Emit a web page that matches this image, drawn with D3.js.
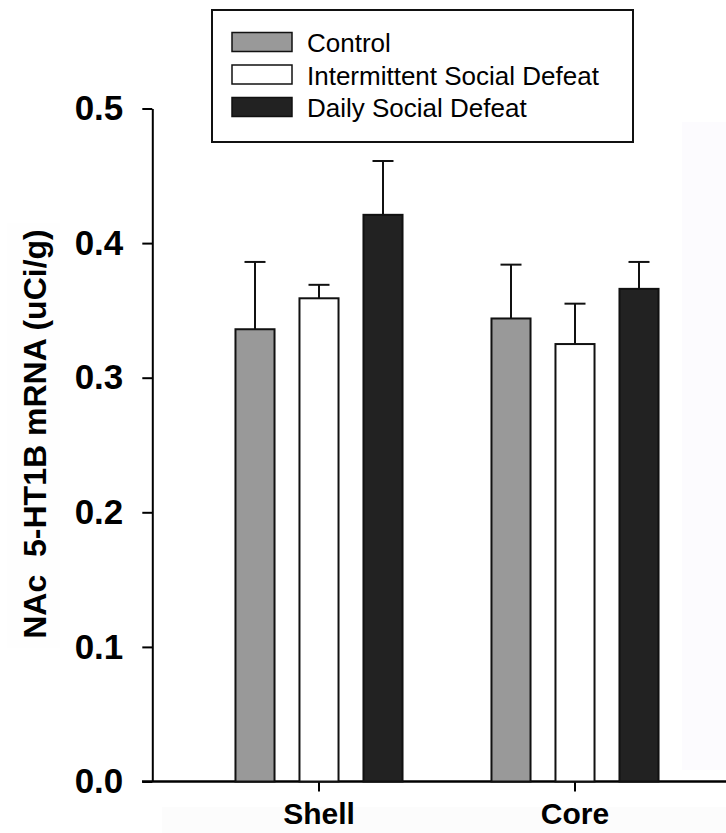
<!DOCTYPE html>
<html>
<head>
    <title>NAc 5-HT1B mRNA</title>
    <meta charset="utf-8">
    <script src="https://cdn.jsdelivr.net/npm/d3@7"></script>
    <style>
        body { margin: 0; background: #fff; }
        text { font-family: Arial, "Liberation Sans", sans-serif; }
        .axis path, .axis line { stroke: #000; stroke-width: 2px; }
        .yaxis text { font-size: 35px; font-weight: bold; fill: #000; }
        .xaxis text { font-size: 30px; font-weight: bold; fill: #000; }
    </style>
</head>
<body>
<div id="chart"></div>
<script>
    const regions = ["Shell", "Core"];
    const groups = ["Control", "Intermittent Social Defeat", "Daily Social Defeat"];
    const colors = ["#999999", "#ffffff", "#222222"];
    const means = {
        "Shell": [0.336, 0.359, 0.421],
        "Core": [0.344, 0.325, 0.366]
    };
    const sems = {
        "Shell": [0.050, 0.010, 0.040],
        "Core": [0.040, 0.030, 0.020]
    };
    const yTicks = [0, 0.1, 0.2, 0.3, 0.4, 0.5];

    const W = 726, H = 833;
    const svg = d3.select("#chart").append("svg")
        .attr("width", W).attr("height", H);

    // faint scan shading
    svg.append("rect").attr("x", 682).attr("y", 122).attr("width", 44).attr("height", 648).attr("fill", "#fcfbfe");
    svg.append("rect").attr("x", 162).attr("y", 807).attr("width", 564).attr("height", 26).attr("fill", "#fcfcfc");
    svg.append("rect").attr("x", 7).attr("y", 223).attr("width", 53).attr("height", 425).attr("fill", "#fefefe");

    const y = d3.scaleLinear().domain([0, 0.5]).range([781.5, 108.5]);
    const x0 = d3.scaleBand().domain(regions).range([191, 703]);
    const x1 = d3.scaleBand().domain(groups).range([32, 224])
        .paddingInner(0.39).paddingOuter(0.195);

    // x axis line
    svg.append("line")
        .attr("x1", 142).attr("x2", W).attr("y1", y(0)).attr("y2", y(0))
        .attr("stroke", "#000").attr("stroke-width", 2.5);

    const xAxis = svg.append("g")
        .attr("class", "axis xaxis")
        .attr("transform", `translate(0,${y(0)})`)
        .call(d3.axisBottom(x0).tickSize(10).tickPadding(11));
    xAxis.select(".domain").remove();

    const yAxis = svg.append("g")
        .attr("class", "axis yaxis")
        .attr("transform", "translate(152.3,0)")
        .call(d3.axisLeft(y).tickValues(yTicks).tickFormat(d3.format(".1f"))
            .tickSize(10).tickSizeOuter(0).tickPadding(19));

    // bars
    const grp = svg.selectAll(".grp").data(regions).enter().append("g")
        .attr("transform", d => `translate(${x0(d)},0)`);

    grp.each(function (r) {
        const g = d3.select(this);
        const rows = groups.map((name, i) => ({name, i, m: means[r][i], e: sems[r][i]}));
        // error bars (upper only)
        g.selectAll(".err").data(rows).enter().append("line")
            .attr("x1", d => x1(d.name) + x1.bandwidth() / 2)
            .attr("x2", d => x1(d.name) + x1.bandwidth() / 2)
            .attr("y1", d => y(d.m)).attr("y2", d => y(d.m + d.e))
            .attr("stroke", "#111").attr("stroke-width", 2);
        g.selectAll(".cap").data(rows).enter().append("line")
            .attr("x1", d => x1(d.name) + x1.bandwidth() / 2 - 10.5)
            .attr("x2", d => x1(d.name) + x1.bandwidth() / 2 + 10.5)
            .attr("y1", d => y(d.m + d.e)).attr("y2", d => y(d.m + d.e))
            .attr("stroke", "#111").attr("stroke-width", 2);
        g.selectAll(".bar").data(rows).enter().append("rect")
            .attr("x", d => x1(d.name))
            .attr("y", d => y(d.m))
            .attr("width", x1.bandwidth())
            .attr("height", d => y(0) - y(d.m))
            .attr("fill", d => colors[d.i])
            .attr("stroke", "#111").attr("stroke-width", 2);
    });

    // y label
    svg.append("text")
        .attr("transform", "translate(46,434) rotate(-90)")
        .attr("text-anchor", "middle")
        .attr("font-size", 32).attr("font-weight", "bold")
        .style("white-space", "pre")
        .text("NAc  5-HT1B mRNA (uCi/g)");

    // legend
    const leg = svg.append("g");
    leg.append("rect")
        .attr("x", 212).attr("y", 10).attr("width", 421).attr("height", 132)
        .attr("fill", "#fff").attr("stroke", "#111").attr("stroke-width", 2);
    const item = leg.selectAll(".item").data(groups).enter().append("g")
        .attr("transform", (d, i) => `translate(232,${32.5 + i * 32.5})`);
    item.append("rect")
        .attr("width", 60).attr("height", 19)
        .attr("fill", (d, i) => colors[i])
        .attr("stroke", "#111").attr("stroke-width", 1.5);
    item.append("text")
        .attr("x", 75).attr("y", 19.5)
        .attr("font-size", 26).attr("fill", "#000")
        .text(d => d);
</script>
</body>
</html>
